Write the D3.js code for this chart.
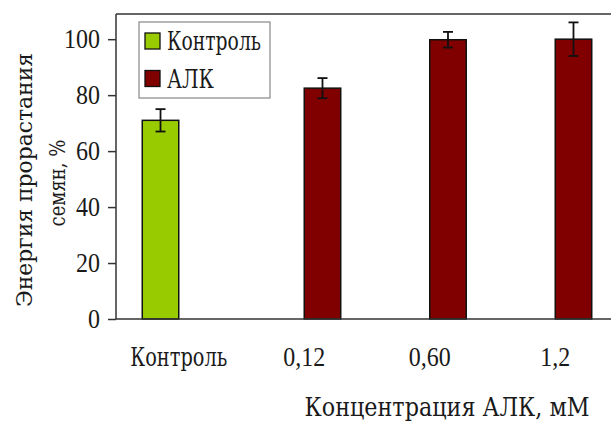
<!DOCTYPE html>
<html><head><meta charset="utf-8">
<script src="https://cdn.jsdelivr.net/npm/d3@7"></script>
<style>
html,body{margin:0;padding:0;background:#fff;}
svg{display:block;}
text{font-family:"Liberation Serif","Times New Roman",serif;fill:#1a1a1a;}
text.cyr{font-family:"DejaVu Serif",serif;}
</style></head>
<body>
<svg id="c" width="611" height="421"></svg>
<script>
const categories = ["Контроль", "0,12", "0,60", "1,2"];
const seriesNames = ["Контроль", "АЛК"];
const controlValues = [71, null, null, null];
const alkValues = [null, 82.5, 99.8, 100];
const controlErrors = [4, null, null, null];
const alkErrors = [null, 3.6, 2.8, 6];
const yTicks = [0, 20, 40, 60, 80, 100];
const colors = ["#99cc00", "#800000"];
const yTitle = ["Энергия прорастания", "семян, %"];
const xTitle = "Концентрация АЛК, мМ";

const svg = d3.select("#c");
const L = 116, R = 618, T = 14, B = 319;
const FS = 24, FSC = 23, SY = 1.1;
const isCyr = s => /[\u0400-\u04FF]/.test(s);

const x0 = d3.scaleBand().domain(categories).range([L, R]).padding(0);
const x1 = d3.scaleBand().domain(seriesNames).range([0, x0.bandwidth()]).paddingInner(0).paddingOuter(0.72);
const y = d3.scaleLinear().domain([0, 109]).range([B, T]);

const series = [
  {name: seriesNames[0], values: controlValues, errors: controlErrors, color: colors[0]},
  {name: seriesNames[1], values: alkValues, errors: alkErrors, color: colors[1]}
];

// bars
series.forEach(s => {
  const data = categories.map((c, i) => ({c, v: s.values[i], e: s.errors[i]})).filter(d => d.v != null);
  svg.append("g").selectAll("rect").data(data).join("rect")
    .attr("x", d => x0(d.c) + x1(s.name))
    .attr("width", x1.bandwidth())
    .attr("y", d => y(d.v))
    .attr("height", d => y(0) - y(d.v))
    .attr("fill", s.color).attr("stroke", "#111").attr("stroke-width", 1.5);
  const eg = svg.append("g").attr("stroke", "#111").attr("stroke-width", 1.8);
  data.forEach(d => {
    const cx = x0(d.c) + x1(s.name) + x1.bandwidth() / 2;
    eg.append("line").attr("x1", cx).attr("x2", cx).attr("y1", y(d.v + d.e)).attr("y2", y(d.v - d.e));
    eg.append("line").attr("x1", cx - 5).attr("x2", cx + 5).attr("y1", y(d.v + d.e)).attr("y2", y(d.v + d.e));
    eg.append("line").attr("x1", cx - 5).attr("x2", cx + 5).attr("y1", y(d.v - d.e)).attr("y2", y(d.v - d.e));
  });
});

// frame top
svg.append("line").attr("x1", L).attr("x2", 611).attr("y1", T).attr("y2", T).attr("stroke", "#333").attr("stroke-width", 1.5);

// y axis
const yAxis = svg.append("g").attr("transform", `translate(${L},0)`)
  .call(d3.axisLeft(y).tickValues(yTicks).tickSize(8).tickPadding(8).tickSizeOuter(0));
yAxis.select(".domain").attr("stroke", "#333").attr("stroke-width", 1.5).attr("d", `M0,${T}V${B}`);
yAxis.selectAll(".tick line").attr("stroke", "#333").attr("stroke-width", 1.5);
yAxis.selectAll(".tick text").attr("font-size", FS).attr("fill", "#1a1a1a")
  .attr("transform", `scale(1,${SY})`).attr("dy", "0.32em");

// x axis line
svg.append("line").attr("x1", L).attr("x2", 611).attr("y1", B).attr("y2", B).attr("stroke", "#333").attr("stroke-width", 1.5);

// category labels
const catWidths = {"Контроль": 97};
svg.append("g").selectAll("text").data(categories).join("text")
  .attr("class", d => isCyr(d) ? "cyr" : null)
  .attr("transform", d => `translate(${x0(d) + x0.bandwidth() / 2},366) scale(1,${SY})`)
  .attr("text-anchor", "middle").attr("font-size", d => isCyr(d) ? FSC : FS)
  .each(function(d) { if (catWidths[d]) d3.select(this).attr("textLength", catWidths[d]).attr("lengthAdjust", "spacingAndGlyphs"); })
  .text(d => d);

// x title
svg.append("text").attr("class", "cyr").attr("transform", `translate(447,416) scale(1,${SY})`)
  .attr("text-anchor", "middle").attr("font-size", FSC)
  .attr("textLength", 285).attr("lengthAdjust", "spacingAndGlyphs").text(xTitle);

// y title
svg.append("text").attr("class", "cyr").attr("transform", `translate(32,180) scale(1,${SY}) rotate(-90)`)
  .attr("text-anchor", "middle").attr("font-size", FSC)
  .attr("textLength", 231).attr("lengthAdjust", "spacingAndGlyphs").text(yTitle[0]);
svg.append("text").attr("class", "cyr").attr("transform", `translate(65,183) scale(1,${SY}) rotate(-90)`)
  .attr("text-anchor", "middle").attr("font-size", FSC)
  .attr("textLength", 79).attr("lengthAdjust", "spacingAndGlyphs").text(yTitle[1]);

// legend
const legendWidths = [94, 47];
const lg = svg.append("g");
lg.append("rect").attr("x", 139).attr("y", 22).attr("width", 131).attr("height", 76)
  .attr("fill", "#fff").attr("stroke", "#888").attr("stroke-width", 1.2);
series.forEach((s, i) => {
  const yy = 33 + i * 37.5;
  lg.append("rect").attr("x", 145).attr("y", yy).attr("width", 15).attr("height", 16)
    .attr("fill", s.color).attr("stroke", "#111").attr("stroke-width", 1.3);
  lg.append("text").attr("class", "cyr").attr("transform", `translate(167,${yy + 17}) scale(1,${SY})`)
    .attr("font-size", FSC).attr("textLength", legendWidths[i]).attr("lengthAdjust", "spacingAndGlyphs")
    .text(s.name);
});
</script>
</body></html>
